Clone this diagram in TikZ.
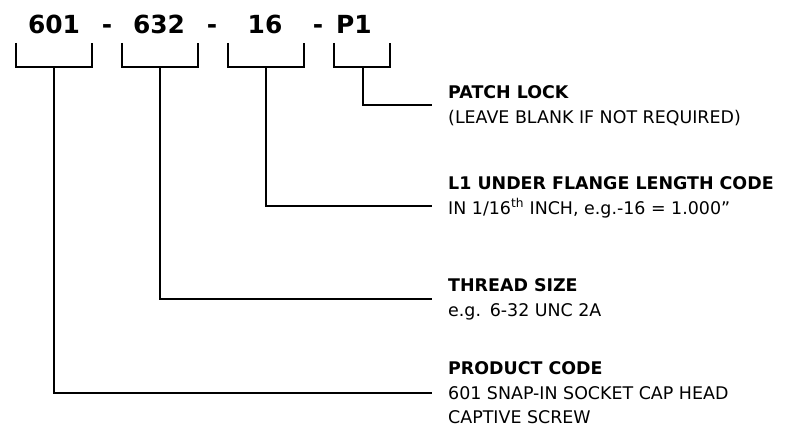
\documentclass[tikz,border=0pt]{standalone}
\usepackage{fontspec}
\setmainfont{DejaVu Sans}
\usetikzlibrary{positioning}
\usetikzlibrary{calc}

\begin{document}
\begin{tikzpicture}[
    x=1bp, y=-1bp,
    every node/.style={font=\fontsize{17.5}{25}\selectfont, inner sep=0pt},
    code/.style={font=\bfseries\fontsize{25}{28}\selectfont, anchor=base},
    bracket/.style={line width=1.8bp},
    link/.style={line width=1.8bp},
    note/.style={anchor=north west, align=left}
]
\useasboundingbox (0,0) rectangle (787,437);
% part number
\node[code] (prod) at (54,34) {601};
\node[code] (dasha) at (107,34) {-};
\node[code] (size) at (159,34) {632};
\node[code] (dashb) at (212,34) {-};
\node[code] (len) at (265,34) {16};
\node[code] (dashc) at (318,34) {-};
\node[code] (lock) at (354,34) {P1};
% brackets
\draw[bracket] (16,43) |- (92,67) -- (92,43);
\draw[bracket] (122,43) |- (198,67) -- (198,43);
\draw[bracket] (228,43) |- (304,67) -- (304,43);
\draw[bracket] (334,43) |- (390,67) -- (390,43);
\coordinate (cprod) at (54,67);
\coordinate (csize) at (160,67);
\coordinate (clen) at (266,67);
\coordinate (clock) at (363,67);
% descriptions
\node[note] (tlock) at (448,85) {\textbf{PATCH LOCK}\\(LEAVE BLANK IF NOT REQUIRED)};
\node[note] (tlen) at (448,176) {\textbf{L1 UNDER FLANGE LENGTH CODE}\\IN 1/16\textsuperscript{th} INCH, e.g.-16 = 1.000”};
\node[note] (tsize) at (448,278) {\textbf{THREAD SIZE}\\e.g.\enspace 6-32 UNC 2A};
\node[note] (tprod) at (448,361) {\textbf{PRODUCT CODE}\\601 SNAP-IN SOCKET CAP HEAD\\CAPTIVE SCREW};
\coordinate (elock) at ($(tlock.west)+(-16,0)$);
\coordinate (elen) at (432,206);
\coordinate (esize) at ($(tsize.west)+(-16,0)$);
\coordinate (eprod) at (432,393);
% leaders
\draw[link] (clock) |- (elock);
\draw[link] (clen) |- (elen);
\draw[link] (csize) |- (esize);
\draw[link] (cprod) |- (eprod);
\end{tikzpicture}
\end{document}
